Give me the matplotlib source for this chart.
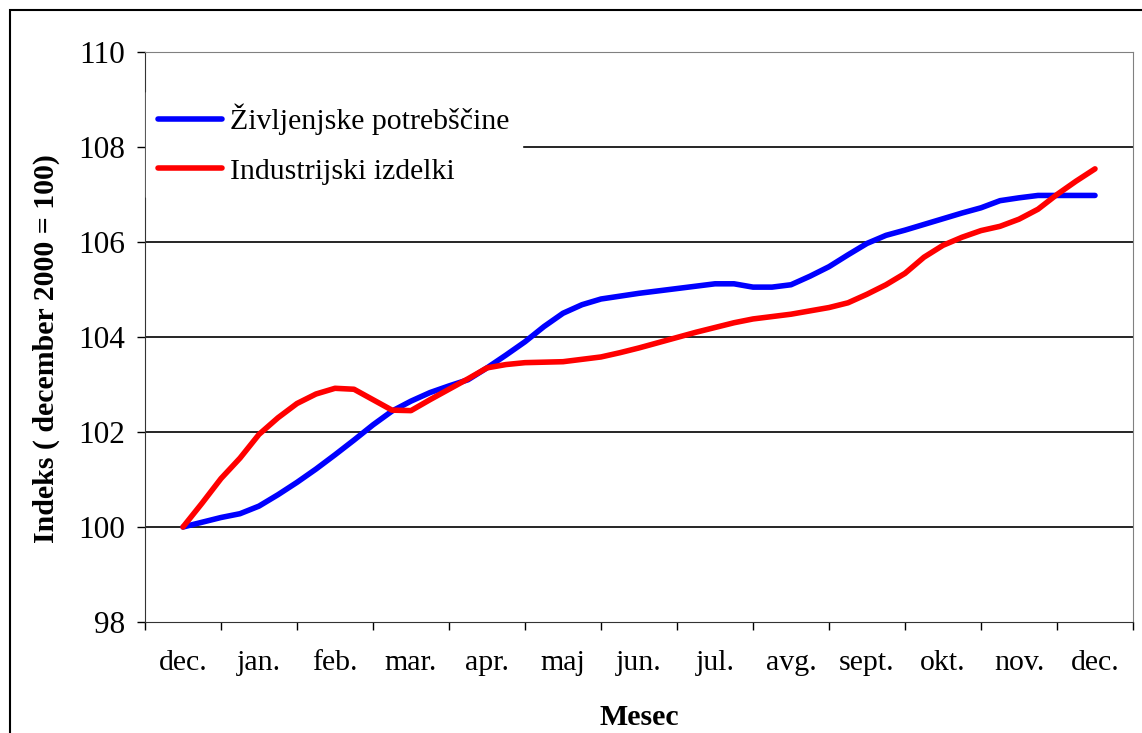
import matplotlib
matplotlib.use("Agg")
from matplotlib import pyplot as plt
from matplotlib.patches import Rectangle
import numpy as np

# Meseci na osi x
meseci = ["dec.", "jan.", "feb.", "mar.", "apr.", "maj", "jun.", "jul.",
          "avg.", "sept.", "okt.", "nov.", "dec."]

# Tedenski indeksi (december 2000 = 100), odcitani s slike
zivljenjske = [100.0, 100.1, 100.2, 100.28, 100.44, 100.68, 100.94, 101.22,
               101.52, 101.83, 102.15, 102.44, 102.65, 102.83, 102.97, 103.1,
               103.35, 103.62, 103.9, 104.22, 104.5, 104.68, 104.8, 104.86,
               104.92, 104.97, 105.02, 105.07, 105.12, 105.12, 105.05, 105.05,
               105.1, 105.28, 105.48, 105.73, 105.97, 106.14, 106.25, 106.37,
               106.49, 106.61, 106.72, 106.87, 106.93, 106.98, 106.98, 106.98,
               106.98]
industrijski = [100.0, 100.5, 101.02, 101.45, 101.95, 102.3, 102.6, 102.8,
                102.92, 102.9, 102.68, 102.46, 102.45, 102.68, 102.9, 103.12,
                103.35, 103.42, 103.46, 103.47, 103.48, 103.53, 103.58, 103.67,
                103.77, 103.88, 103.99, 104.1, 104.2, 104.3, 104.38, 104.43,
                104.48, 104.55, 104.62, 104.72, 104.9, 105.1, 105.34, 105.68,
                105.93, 106.1, 106.24, 106.33, 106.48, 106.69, 107.0, 107.28,
                107.54]
y_ticks = [98, 100, 102, 104, 106, 108, 110]

plt.rcParams['font.family'] = ['Liberation Serif', 'DejaVu Serif']

fig = plt.figure(figsize=(11.42, 7.33), dpi=100)
ax = fig.add_axes([145/1142, 1-622/733, 988/1142, 570/733])

# okvir okrog celotne slike
fig.patches.append(Rectangle((10/1142, -0.05), 1.2, 1-10/733+0.05,
                             transform=fig.transFigure, fill=False,
                             edgecolor="black", linewidth=1.5))

x = np.arange(len(zivljenjske)) / 4  # 4 tocke na mesec
ax.plot(x, zivljenjske, color="#0000ff", linewidth=4.0,
        solid_capstyle="round", label="Življenjske potrebščine", zorder=3)
ax.plot(x, industrijski, color="#ff0000", linewidth=4.0,
        solid_capstyle="round", label="Industrijski izdelki", zorder=3)

ax.set_xlim(-0.5, len(meseci) - 0.5)
ax.set_ylim(98, 110)
ax.set_yticks(y_ticks)
ax.set_yticklabels([str(v) for v in y_ticks], fontsize=22.5)
ax.set_xticks(range(len(meseci)))
ax.set_xticklabels(meseci, fontsize=21.5)
ax.set_xticks(np.arange(-0.5, len(meseci)), minor=True)
ax.tick_params(axis="x", which="major", length=0, pad=20)
ax.tick_params(axis="x", which="minor", length=5.8, width=1, direction="out")
ax.tick_params(axis="y", length=5.5, width=1, direction="out", pad=9)

for v in y_ticks[1:-1]:
    ax.axhline(v, color="black", linewidth=1.2, zorder=1)

ax.spines["top"].set_color("#808080")
ax.spines["right"].set_color("#808080")
ax.spines["left"].set_color("#333333")
ax.spines["bottom"].set_color("#333333")

ax.set_ylabel("Indeks ( december 2000 = 100)", fontsize=21.5,
              fontweight="bold")
ax.yaxis.set_label_coords(-0.086, 0.48)
ax.set_xlabel("Mesec", fontsize=21.5, fontweight="bold")
ax.xaxis.set_label_coords(0.5, -0.143)

leg = ax.legend(loc="upper left", bbox_to_anchor=(0.001, 0.930),
                fontsize=21.5, frameon=True, fancybox=False,
                handlelength=2.15, handletextpad=0.27, labelspacing=0.75,
                borderpad=0.4, borderaxespad=0)
leg.get_frame().set_edgecolor("white")
leg.get_frame().set_facecolor("white")
leg.get_frame().set_alpha(1)
leg.set_zorder(4)

fig.savefig("out.png", dpi=100)
